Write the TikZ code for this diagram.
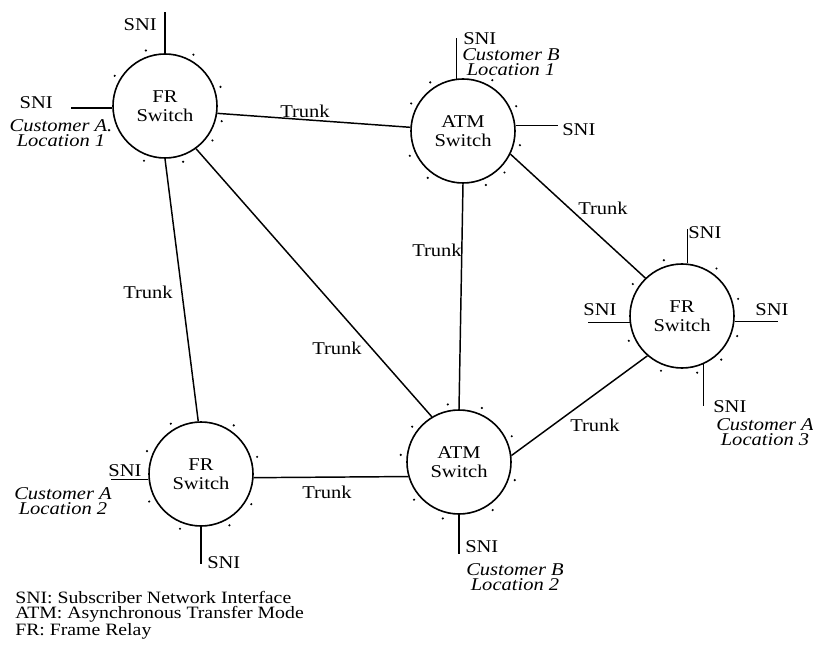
\documentclass[tikz,border=0pt]{standalone}
\usepackage{fontspec}
\setmainfont[FakeStretch=1.14]{Liberation Serif}
\begin{document}
\begin{tikzpicture}[x=0.75pt,y=-0.75pt,
  sw/.style={circle,draw,line width=1.2pt,minimum size=78pt,inner sep=0pt,align=center,
    font=\fontsize{13.5}{13.9}\selectfont},
  lbl/.style={inner sep=0pt,font=\fontsize{13.5}{11.25}\selectfont},
  ital/.style={inner sep=0pt,align=center,font=\fontsize{13.5}{11.25}\selectfont\itshape},
  legend/.style={inner sep=0pt,align=left,font=\fontsize{13}{10.9}\selectfont},
  link/.style={line width=1.1pt},
  stub/.style={line width=1.1pt},
  portdot/.style={fill=black}
]
\useasboundingbox (0,0) rectangle (813,648);

% switches
\node[sw] (n1) at (165,106) {FR\\Switch};
\node[sw] (n2) at (463,131) {ATM\\Switch};
\node[sw] (n3) at (682,316) {FR\\Switch};
\node[sw] (n4) at (201,474) {FR\\Switch};
\node[sw] (n5) at (459,462) {ATM\\Switch};

% port dots
\foreach \a in {109,61,149,19,-15,-36,-111,-72}
  \fill[portdot] (n1.center) ++(\a:44pt) circle (0.9pt);
\foreach \a in {124,152,60,25,-14,-155,-127,-45,-67}
  \fill[portdot] (n2.center) ++(\a:44pt) circle (0.9pt);
\foreach \a in {108,54,147,17,-20,-155,-48,-111,-75}
  \fill[portdot] (n3.center) ++(\a:44pt) circle (0.9pt);
\foreach \a in {157,17,-152,-31,-111,-61,121,56}
  \fill[portdot] (n4.center) ++(\a:44pt) circle (0.9pt);
\foreach \a in {26,173,-18,-140,-55,-106,101,67,143}
  \fill[portdot] (n5.center) ++(\a:44pt) circle (0.9pt);

% trunks
\draw[link] (n1.-8) -- (n2.176);
\draw[link] (n1.-90) -- (n4.93);
\draw[link] (n1.-54) -- (n5.121);
\draw[link] (n2.-90) -- (n5.90);
\draw[link] (n2.-26) -- (n3.134);
\draw[link] (n5.7) -- (n3.-131);
\draw[link] (n4.-4) -- (n5.196);

% trunk labels
\node[lbl] (t12) at (305,111) {Trunk};
\node[lbl] (t14) at (148,292) {Trunk};
\node[lbl] (t15) at (337,348) {Trunk};
\node[lbl] (t25) at (437,250) {Trunk};
\node[lbl] (t23) at (603,208) {Trunk};
\node[lbl] (t53) at (595,425) {Trunk};
\node[lbl] (t45) at (327,492) {Trunk};

% SNI stubs
\draw[stub] (n1.north) -- ++(0,-41) coordinate (e1t);
\draw[stub] (n1.182) -- ++(-41,0) coordinate (e1l);
\draw[stub] (n2.97) -- ++(0,-41) coordinate (e2t);
\draw[stub] (n2.6) -- ++(42,0) coordinate (e2r);
\draw[stub] (n3.84) -- ++(0,-34) coordinate (e3t);
\draw[stub] (n3.187) -- ++(-42,0) coordinate (e3l);
\draw[stub] (n3.-6) -- ++(43,0) coordinate (e3r);
\draw[stub] (n3.-66) -- ++(0,41.5) coordinate (e3b);
\draw[stub] (n4.186) -- ++(-37,0) coordinate (e4l);
\draw[stub] (n4.south) -- ++(0,37) coordinate (e4b);
\draw[stub] (n5.south) -- ++(0,39) coordinate (e5b);

% SNI labels
\node[lbl,anchor=east] (l1t) at (157,25) {SNI};
\node[lbl,anchor=east] (l1l) at (53,103) {SNI};
\node[ital] (c1) at (61,133.5) {Customer A.\\Location 1};
\node[lbl,anchor=west] (l2t) at (463,38.5) {SNI};
\node[ital] (c2) at (511,62) {Customer B\\Location 1};
\node[lbl,anchor=west] (l2r) at (562,130) {SNI};
\node[lbl,anchor=west] (l3t) at (688,233) {SNI};
\node[lbl] (l3l) at (600,310) {SNI};
\node[lbl] (l3r) at (772,310) {SNI};
\node[lbl,anchor=west] (l3b) at (713,407) {SNI};
\node[ital] (c3) at (765,432) {Customer A\\Location 3};
\node[lbl] (l4l) at (125,471) {SNI};
\node[ital] (c4) at (63,501.5) {Customer A\\Location 2};
\node[lbl,anchor=west] (l4b) at (207,563) {SNI};
\node[lbl,anchor=west] (l5b) at (465,547) {SNI};
\node[ital] (c5) at (515,577) {Customer B\\Location 2};

% legend
\node[legend,anchor=north west] (leg) at (15,591)
  {SNI: Subscriber Network Interface\\ATM: Asynchronous Transfer Mode\\FR: Frame Relay};
\end{tikzpicture}
\end{document}
